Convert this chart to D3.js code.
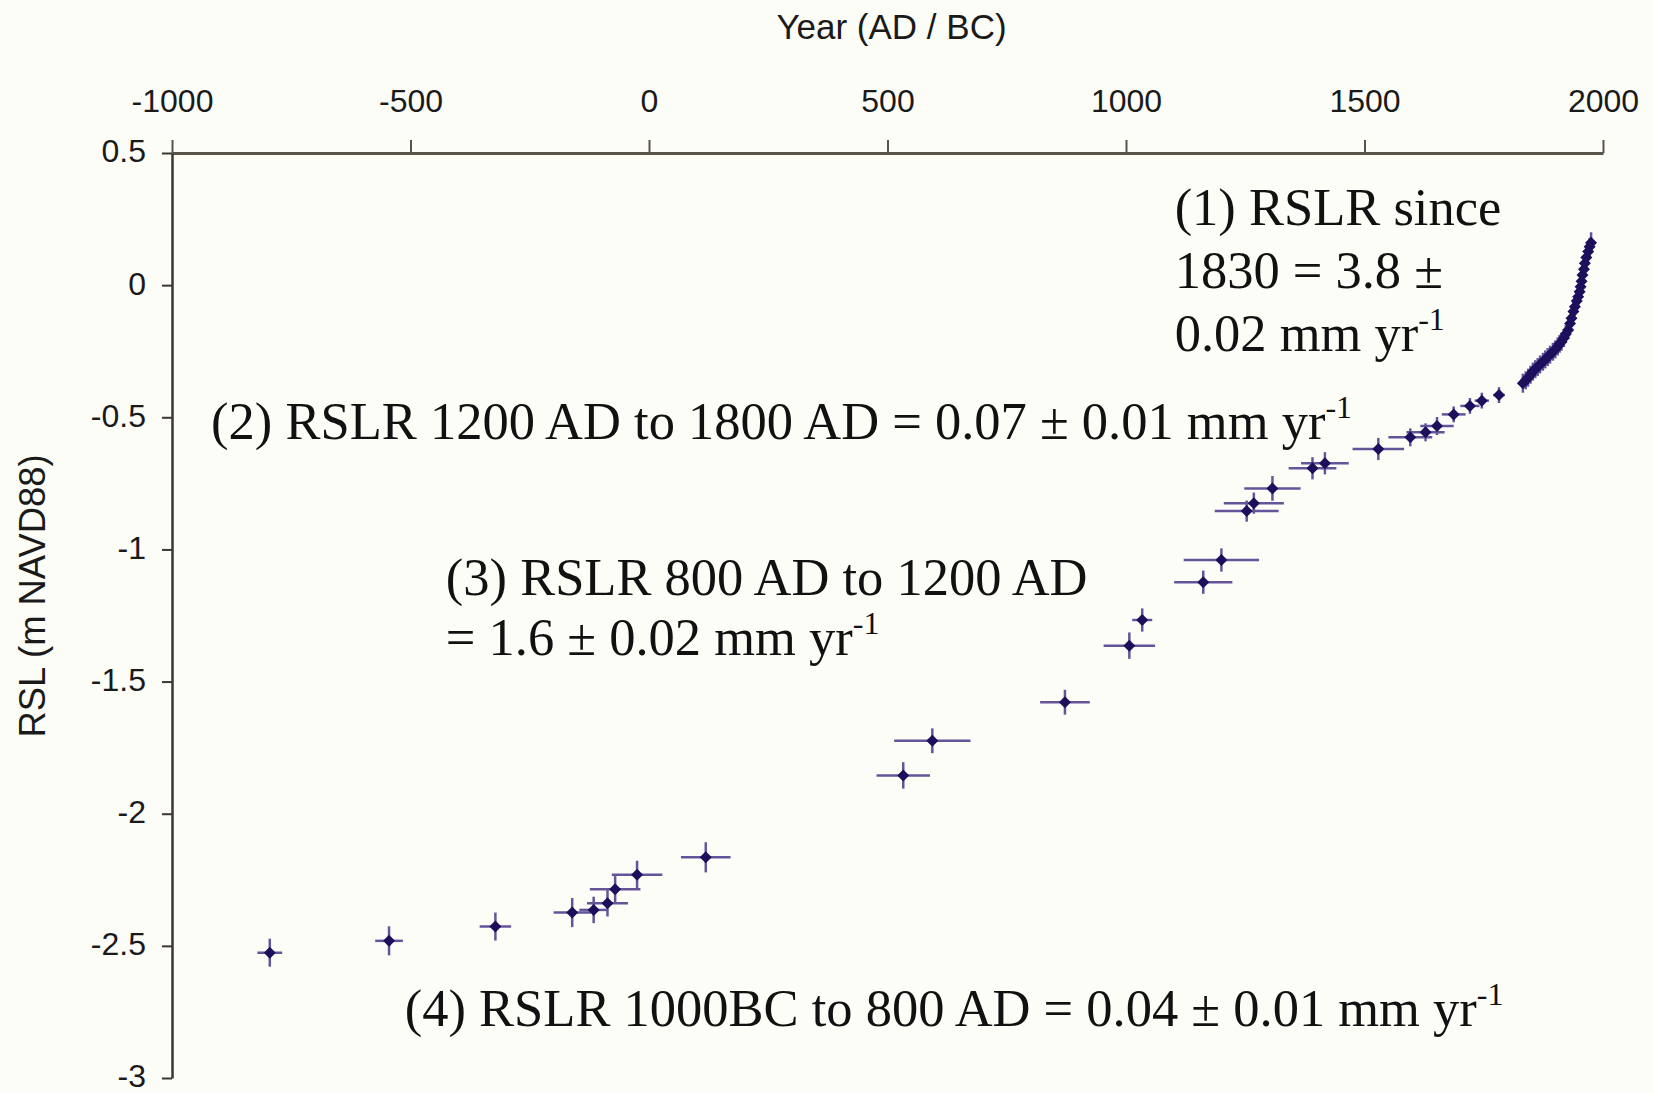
<!DOCTYPE html>
<html>
<head>
<meta charset="utf-8">
<script src="https://cdn.jsdelivr.net/npm/d3@7"></script>
<style>
  html, body { margin: 0; padding: 0; background: #fdfdf8; }
  svg { display: block; }
</style>
</head>
<body>
<div id="chart"></div>
<script>
// Sample ages in years AD (negative = BC)
const years = [
  -795, -545, -322, -161, -116, -87, -71, -25, 119,
  533, 594, 872, 1007, 1034, 1162, 1200,
  1253, 1268, 1307, 1391, 1417, 1529, 1596, 1628, 1652,
  1687, 1721, 1746, 1782,
  1832, 1838, 1843, 1848, 1853, 1858, 1863, 1868, 1874, 1879,
  1884, 1889, 1895, 1900, 1905, 1909, 1913, 1918, 1922, 1927,
  1931, 1934, 1938, 1941, 1945, 1948, 1951, 1953, 1955, 1957,
  1960, 1962, 1965, 1969, 1972, 1975
];

// Relative sea level (m NAVD88)
const rsl = [
  -2.526, -2.481, -2.427, -2.374, -2.364, -2.339, -2.286, -2.231, -2.165,
  -1.855, -1.724, -1.578, -1.364, -1.267, -1.124, -1.040,
  -0.855, -0.825, -0.769, -0.693, -0.674, -0.620, -0.576, -0.557, -0.533,
  -0.489, -0.457, -0.437, -0.416,
  -0.371, -0.360, -0.350, -0.339, -0.327, -0.318, -0.310, -0.300, -0.290, -0.281,
  -0.272, -0.263, -0.252, -0.243, -0.232, -0.222, -0.214, -0.200, -0.185, -0.170,
  -0.145, -0.125, -0.100, -0.082, -0.060, -0.044, -0.025, -0.006, 0.015, 0.038,
  0.060, 0.083, 0.105, 0.127, 0.145, 0.160
];

// Age uncertainty (+/- years)
const yearErr = [
  26, 29, 33, 39, 30, 43, 53, 53, 52,
  56, 80, 52, 54, 21, 61, 79,
  67, 63, 59, 50, 50, 54, 46, 40, 35,
  25, 20, 15, 12,
  10, 10, 10, 10, 10, 10, 10, 10, 10, 10,
  10, 10, 10, 10, 10, 10, 10, 10, 10, 10,
  8, 8, 8, 8, 8, 8, 8, 8, 8, 8,
  8, 8, 8, 8, 8, 8
];

// RSL uncertainty (+/- m)
const rslErr = [
  0.053, 0.055, 0.053, 0.055, 0.050, 0.050, 0.050, 0.053, 0.057,
  0.050, 0.047, 0.047, 0.050, 0.044, 0.044, 0.044,
  0.040, 0.040, 0.047, 0.042, 0.042, 0.042, 0.034, 0.034, 0.034,
  0.030, 0.030, 0.030, 0.030,
  0.036, 0.034, 0.034, 0.034, 0.034, 0.034, 0.034, 0.034, 0.034, 0.034,
  0.034, 0.034, 0.034, 0.034, 0.034, 0.034, 0.034, 0.034, 0.034, 0.034,
  0.034, 0.034, 0.034, 0.034, 0.034, 0.034, 0.034, 0.034, 0.034, 0.034,
  0.034, 0.034, 0.034, 0.034, 0.034, 0.040
];

const xTicks = [-1000, -500, 0, 500, 1000, 1500, 2000];
const yTicks = [0.5, 0, -0.5, -1, -1.5, -2, -2.5, -3];

// Rate annotations: each line is [text, superscript]
const note1 = [["(1) RSLR since", ""], ["1830 = 3.8 \u00b1", ""], ["0.02 mm yr", "-1"]];
const note2 = [["(2) RSLR 1200 AD to 1800 AD = 0.07 \u00b1 0.01 mm yr", "-1"]];
const note3 = [["(3) RSLR 800 AD to 1200 AD", ""], ["= 1.6 \u00b1 0.02 mm yr", "-1"]];
const note4 = [["(4) RSLR 1000BC to 800 AD = 0.04 \u00b1 0.01 mm yr", "-1"]];

const points = years.map((d, i) => ({
  year: d, rsl: rsl[i], ex: yearErr[i], ey: rslErr[i]
}));

const W = 1654, H = 1093;
const margin = { top: 153, right: 51, bottom: 15, left: 172 };
const width = W - margin.left - margin.right;
const height = H - margin.top - margin.bottom;

const svg = d3.select("#chart")
  .append("svg")
  .attr("width", W)
  .attr("height", H)
  .style("background", "#fdfdf8");

const g = svg.append("g")
  .attr("transform", `translate(${margin.left},${margin.top})`);

const xScale = d3.scaleLinear().domain([-1000, 2000]).range([0, width]);
const yScale = d3.scaleLinear().domain([-3, 0.5]).range([height, 0]);

// X axis on top
const xAxis = d3.axisTop(xScale)
  .tickValues(xTicks)
  .tickSize(13)
  .tickSizeOuter(0)
  .tickPadding(28)
  .tickFormat(d => String(d));

const xg = g.append("g").attr("class", "x-axis").call(xAxis);
xg.select(".domain").attr("stroke", "#5a5348").attr("stroke-width", 3);
xg.selectAll(".tick line").attr("stroke", "#5a5348").attr("stroke-width", 2);
xg.selectAll(".tick text")
  .attr("fill", "#1a1a1a")
  .style("font-family", "'Liberation Sans', Arial, sans-serif")
  .style("font-size", "32px");

// Y axis
const yAxis = d3.axisLeft(yScale)
  .tickValues(yTicks)
  .tickSize(10)
  .tickSizeOuter(0)
  .tickPadding(16)
  .tickFormat(d => String(d));

const yg = g.append("g").attr("class", "y-axis").call(yAxis);
yg.select(".domain").attr("stroke", "#3a3632").attr("stroke-width", 2.5);
yg.selectAll(".tick line").attr("stroke", "#3a3632").attr("stroke-width", 2);
yg.selectAll(".tick text")
  .attr("fill", "#1a1a1a")
  .attr("dy", "0.28em")
  .style("font-family", "'Liberation Sans', Arial, sans-serif")
  .style("font-size", "32px");

// Axis labels
svg.append("text")
  .attr("x", margin.left + width / 2 + 4)
  .attr("y", 39)
  .attr("text-anchor", "middle")
  .attr("fill", "#1a1a1a")
  .style("font-family", "'Liberation Sans', Arial, sans-serif")
  .style("font-size", "35px")
  .text("Year (AD / BC)");

svg.append("text")
  .attr("transform", `translate(45, 596) rotate(-90)`)
  .attr("text-anchor", "middle")
  .attr("fill", "#1a1a1a")
  .attr("textLength", 283)
  .attr("lengthAdjust", "spacingAndGlyphs")
  .style("font-family", "'Liberation Sans', Arial, sans-serif")
  .style("font-size", "37px")
  .text("RSL (m NAVD88)");

// Error bars
const barColor = "#64559a";

g.selectAll("line.xerr")
  .data(points)
  .enter()
  .append("line")
  .attr("class", "xerr")
  .attr("x1", d => xScale(d.year - d.ex))
  .attr("x2", d => xScale(d.year + d.ex))
  .attr("y1", d => yScale(d.rsl))
  .attr("y2", d => yScale(d.rsl))
  .attr("stroke", barColor)
  .attr("stroke-width", 2.5);

g.selectAll("line.yerr")
  .data(points)
  .enter()
  .append("line")
  .attr("class", "yerr")
  .attr("x1", d => xScale(d.year))
  .attr("x2", d => xScale(d.year))
  .attr("y1", d => yScale(d.rsl - d.ey))
  .attr("y2", d => yScale(d.rsl + d.ey))
  .attr("stroke", barColor)
  .attr("stroke-width", 2.5);

// Diamond markers
const diamond = d3.symbol().type(d3.symbolSquare).size(72);

g.selectAll("path.pt")
  .data(points)
  .enter()
  .append("path")
  .attr("class", "pt")
  .attr("d", diamond)
  .attr("transform", d => `translate(${xScale(d.year)},${yScale(d.rsl)}) rotate(45)`)
  .attr("fill", "#1d0f5b");

// Annotations, anchored in data units
function addNote(lines, yr, val, gap) {
  lines.forEach((ln, i) => {
    const t = g.append("text")
      .attr("x", xScale(yr))
      .attr("y", yScale(val) + i * gap)
      .attr("fill", "#111")
      .style("font-family", "'Liberation Serif', 'Times New Roman', serif")
      .style("font-size", "52.5px");
    t.append("tspan").text(ln[0]);
    if (ln[1]) {
      t.append("tspan")
        .attr("dy", -21)
        .style("font-size", "32px")
        .text(ln[1]);
    }
  });
}

addNote(note1, 1102, 0.228, 63);
addNote(note2, -918, -0.582, 0);
addNote(note3, -426, -1.172, 60);
addNote(note4, -512, -2.803, 0);
</script>
</body>
</html>
